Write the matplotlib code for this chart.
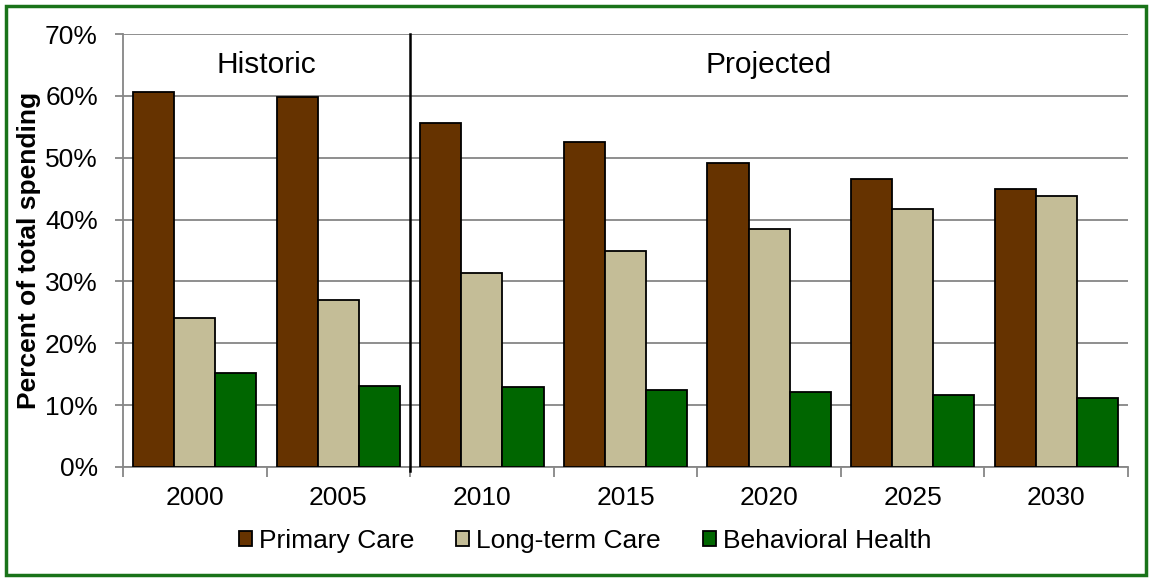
import numpy as np
import matplotlib.pyplot as plt
from matplotlib.patches import Rectangle

plt.rcParams['font.family'] = ['Liberation Sans', 'DejaVu Sans']

# donnees
years = ["2000", "2005", "2010", "2015", "2020", "2025", "2030"]
primary_care = [60.6, 59.8, 55.6, 52.5, 49.2, 46.5, 44.9]
long_term_care = [24.1, 27.0, 31.4, 34.9, 38.4, 41.7, 43.8]
behavioral_health = [15.2, 13.1, 12.9, 12.5, 12.2, 11.6, 11.1]
series_names = ["Primary Care", "Long-term Care", "Behavioral Health"]
colors = ["#663300", "#C4BD97", "#006600"]

fig = plt.figure(figsize=(11.51, 5.80), dpi=100)
ax = fig.add_axes([123 / 1151, 113 / 580, 1005 / 1151, 433 / 580])

x = np.arange(len(years))
w = 0.286
for k, vals in enumerate([primary_care, long_term_care, behavioral_health]):
    ax.bar(x + (k - 1) * w, vals, w, color=colors[k], edgecolor="black",
           linewidth=1.3, label=series_names[k], zorder=3)

ax.set_xlim(-0.5, len(years) - 0.5)
ax.set_ylim(0, 70)
ax.set_yticks(np.arange(0, 71, 10))
ax.set_yticklabels([f"{v}%" for v in range(0, 71, 10)], fontsize=19)
ax.set_xticks(x)
ax.set_xticklabels(years, fontsize=19)
ax.set_xticks(np.arange(-0.5, len(years), 1), minor=True)
ax.tick_params(axis="x", which="major", length=0, pad=14)
ax.tick_params(axis="x", which="minor", length=7, width=1.3, color="#868686")
ax.tick_params(axis="y", length=6, width=1.3, color="#868686", pad=12)
ax.grid(axis="y", color="#868686", linewidth=1.3, zorder=0)

for side in ["top", "right"]:
    ax.spines[side].set_visible(False)
for side in ["left", "bottom"]:
    ax.spines[side].set_color("#868686")
    ax.spines[side].set_linewidth(1.3)

ax.set_ylabel("Percent of total spending", fontsize=19, fontweight="bold", labelpad=3)

# separation historique / projection
ax.axvline(1.5, ymin=-0.01, ymax=1, color="black", linewidth=1.8, zorder=4, clip_on=False)
ax.text(0.5, 65, "Historic", ha="center", va="center", fontsize=21.5)
ax.text(4.0, 65, "Projected", ha="center", va="center", fontsize=21.5)

fig.legend(loc="center", bbox_to_anchor=(585 / 1151, 1 - 541 / 580), ncol=3,
           frameon=False, fontsize=19, handlelength=0.5, handleheight=0.5,
           handletextpad=0.25, columnspacing=1.6)

# cadre vert
fig.patches.append(Rectangle((5.5 / 1151, 5.5 / 580), 1 - 11 / 1151, 1 - 11 / 580,
                             transform=fig.transFigure, fill=False,
                             edgecolor="#1A731A", linewidth=2.5))

fig.savefig("out.png", dpi=100)
